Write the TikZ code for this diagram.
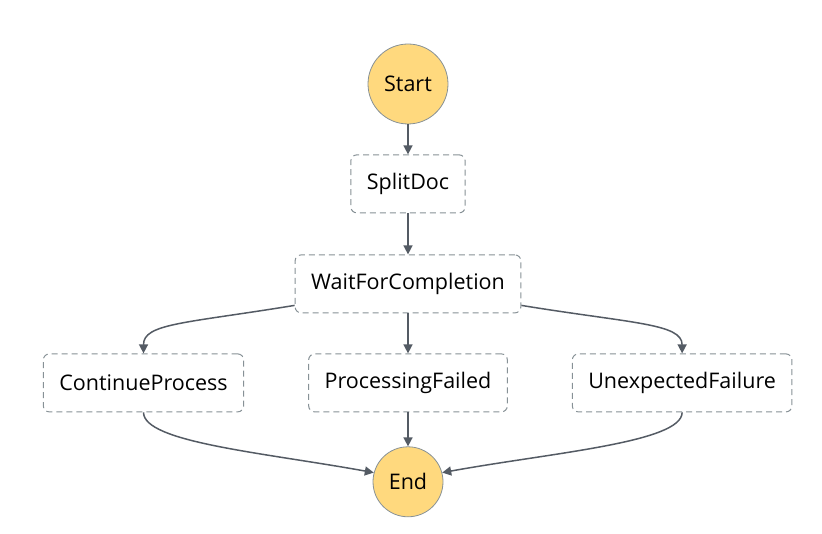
\documentclass[tikz,border=0pt]{standalone}
\usepackage{fontspec}
\setmainfont{Open Sans}
\usetikzlibrary{positioning, arrows.meta}
\definecolor{flowgray}{HTML}{545B64}
\definecolor{edgegray}{HTML}{879196}
\definecolor{termfill}{HTML}{FFD97E}
\tikzset{
    task/.style={draw=edgegray, dash pattern=on 6pt off 4pt, line width=1pt, rectangle, rounded corners=6pt, fill=white, inner xsep=16pt, minimum height=58pt, font=\fontsize{21.5}{24}\selectfont},
    terminal/.style={draw=edgegray, line width=0.8pt, circle, fill=termfill, inner sep=0pt, font=\fontsize{21.5}{24}\selectfont},
    flow/.style={-{Triangle[length=9pt,width=9pt]}, draw=flowgray, line width=1.5pt} }

\begin{document}
\begin{tikzpicture}[x=1pt, y=1pt, node distance=40pt]
    \useasboundingbox (0,0) rectangle (822,534);
    \node[terminal, minimum size=80pt] (start) at (408,450) {Start};
    \node[task, below = 30pt of start] (split) {SplitDoc};
    \node[task, below = 41pt of split] (wait) {WaitForCompletion};
    \node[task, below = 40pt of wait] (failed) {ProcessingFailed};
    \node[task, left = 64pt of failed] (cont) {ContinueProcess};
    \node[task, right = 64pt of failed] (unexp) {UnexpectedFailure};
    \node[terminal, minimum size=70pt, below = 34pt of failed] (end) {End};
    % ----
    \draw[flow] (start) -- (split);
    \draw[flow] (split) -- (wait);
    \draw[flow] (wait) -- (failed);
    \draw[flow] ([yshift=8pt]wait.south west) .. controls +(-110,-18) and +(0,30) .. (cont.north);
    \draw[flow] ([yshift=8pt]wait.south east) .. controls +(110,-18) and +(0,30) .. (unexp.north);
    \draw[flow] (failed) -- (end);
    \draw[flow] (cont.south) .. controls +(0,-30) and +(-110,20) .. (end.165);
    \draw[flow] (unexp.south) .. controls +(0,-30) and +(110,20) .. (end.15);
\end{tikzpicture}
\end{document}
